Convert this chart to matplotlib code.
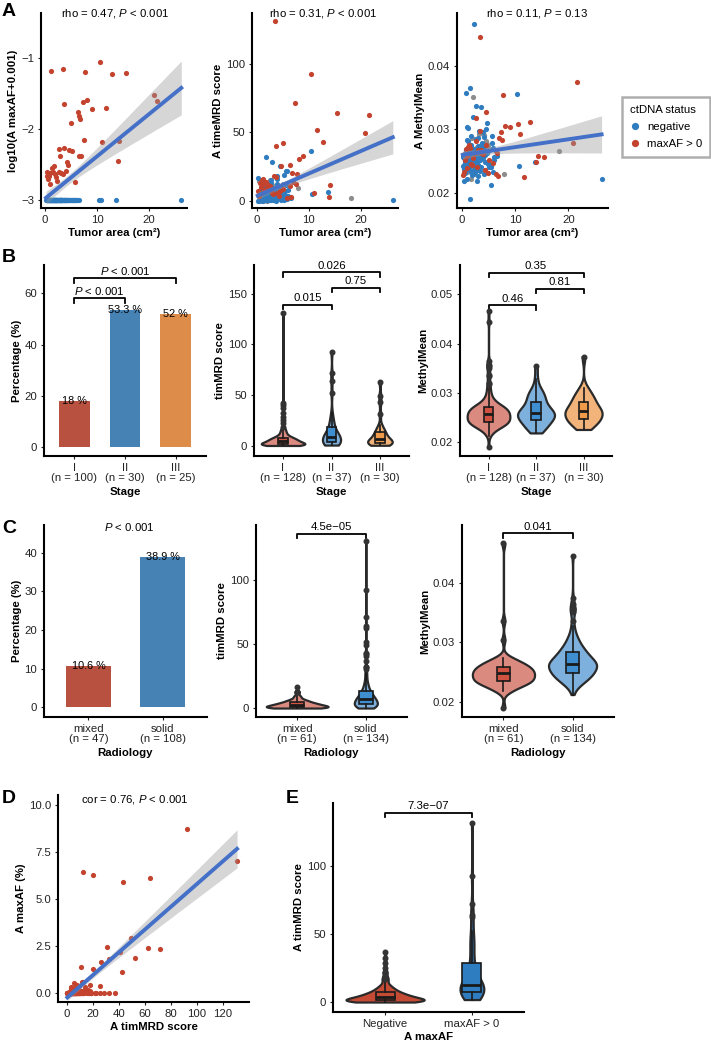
import numpy as np
import matplotlib
matplotlib.use('Agg')
import matplotlib.pyplot as plt
from matplotlib.lines import Line2D

plt.rcParams['font.family'] = ['Liberation Sans', 'DejaVu Sans']
plt.rcParams['mathtext.fontset'] = 'custom'
plt.rcParams['mathtext.rm'] = 'Liberation Sans'
plt.rcParams['mathtext.it'] = 'Liberation Sans:italic'
plt.rcParams['font.size'] = 8.2

# ---- samples with maxAF > 0 (47) ----
pos_area = [3.5, 10.5, 7.7, 12.8, 15.5, 1.15, 20.9, 21.6, 3.7, 7.3,
            8.1, 11.7, 9.0, 6.4, 6.5, 6.8, 5.0, 7.5, 11.0, 14.2,
            14.0, 2.7, 2.9, 3.7, 4.6, 5.1, 4.3, 4.5, 6.6, 7.0,
            5.8, 0.4, 0.9, 1.5, 2.0, 2.6, 3.1, 0.6, 1.0, 2.4,
            0.3, 1.3, 2.2, 3.4, 1.7, 4.0, 0.8]
pos_mrd = [131, 92.5, 19.6, 42.9, 64.0, 12.5, 49.5, 62.7, 40.5, 71.6,
           31.0, 52.0, 32.6, 26.2, 10.8, 20.3, 42.2, 12.3, 5.7, 11.8,
           3.0, 8.0, 6.0, 17.7, 25.7, 9.0, 4.0, 7.0, 3.0, 14.0,
           2.0, 4.0, 6.0, 8.0, 10.0, 11.0, 5.0, 13.0, 15.0, 9.0,
           7.0, 16.0, 12.0, 18.0, 14.0, 6.0, 10.0]
pos_maxaf = [7.0, 8.7, 6.3, 5.9, 6.1, 6.45, 2.95, 2.41, 2.17, 2.33,
             2.47, 1.87, 1.80, 1.66, 1.40, 1.29, 1.12, 0.59, 0.55, 0.58,
             0.25, 0.42, 0.32, 0.44, 0.40, 0.39, 0.24, 0.21, 0.32, 0.32,
             0.08, 0.15, 0.14, 0.15, 0.13, 0.15, 0.14, 0.095, 0.07, 0.086,
             0.12, 0.18, 0.11, 0.13, 0.20, 0.16, 0.12]
pos_methyl = [0.0445, 0.0308, 0.0354, 0.0311, 0.0256, 0.0272, 0.0279, 0.0374, 0.0262, 0.0296,
              0.0305, 0.0225, 0.0304, 0.0229, 0.0265, 0.0226, 0.0231, 0.0283, 0.0292, 0.0258,
              0.0249, 0.0318, 0.0241, 0.0268, 0.0328, 0.0252, 0.0236, 0.0275, 0.0262, 0.0287,
              0.0247, 0.0233, 0.0258, 0.0271, 0.0244, 0.0282, 0.0267, 0.0251, 0.0239, 0.0263,
              0.0228, 0.0276, 0.0254, 0.0298, 0.0245, 0.0261, 0.0269]
pos_stage = "1223213312 3222331322 3111221123 3111123112 1123231"
pos_radio = "ssssssssss ssssssssss ssmsssmsss smsssssmss mssssss"

# ---- ctDNA negative samples (108) ----
neg_area = [0.3, 0.5, 0.6, 0.8, 0.9, 1.0, 1.1, 1.2, 1.3, 1.4, 1.5, 1.6, 1.7, 1.8, 1.9, 2.0,
            2.1, 2.25, 2.3, 2.5, 2.6, 2.8, 3.0, 3.2, 0.4, 0.7, 1.05, 1.45, 1.75, 2.15, 0.2, 2.9,
            0.75, 1.6, 3.7, 10.4, 10.7, 13.7, 26.2, 6.6, 1.8, 0.5, 0.9, 1.2, 1.4, 1.7, 2.0, 2.2,
            2.4, 2.6, 2.8, 3.0, 3.3, 3.5, 3.9, 4.2, 4.5, 4.8, 5.2, 5.6, 6.0, 0.6, 1.0, 1.3,
            1.5, 1.9, 2.1, 2.3, 2.7, 3.1, 3.4, 3.8, 4.1, 4.4, 4.9, 5.4, 5.9, 0.8, 1.1, 2.5, 2.9, 3.6,
            1.2, 2.1, 2.8, 3.3, 1.7, 2.5,
            3.1, 4.0, 4.6, 5.3, 2.6, 3.8, 5.8, 4.3,
            2.0, 3.0, 3.6, 2.4,
            4.1, 5.0, 5.7, 3.2, 4.7, 6.1, 3.9, 5.4]
neg_mrd = [0.2, 1.0, 0.5, 2.1, 3.0, 0.8, 4.2, 1.5, 0.3, 5.1, 2.6, 0.9, 3.6, 6.2, 1.2, 0.6,
           2.3, 4.8, 7.5, 1.8, 0.4, 3.3, 5.6, 9.8, 0.7, 2.9, 1.1, 12.4, 4.0, 0.5, 16.8, 2.0,
           1.2, 3.5, 6.8, 36.8, 4.9, 6.6, 0.5, 2.2, 32.4, 0.3, 5.5, 8.2, 2.8, 10.5, 0.9, 4.4,
           7.1, 1.6, 13.2, 3.9, 0.6, 6.0, 18.3, 2.5, 9.1, 5.0, 1.1, 22.0, 7.8, 0.4, 3.2, 11.6,
           1.9, 6.4, 0.8, 4.6, 15.1, 2.7, 8.8, 0.2, 5.9, 25.3, 3.1, 7.3, 1.4, 9.6, 0.7, 4.1, 28.5, 2.4,
           1.5, 3.2, 0.6, 6.5, 9.4, 2.1,
           4.8, 12.5, 0.9, 18.7, 7.6, 2.4, 21.8, 10.2,
           0.4, 2.7, 5.2, 1.3,
           6.3, 1.8, 11.4, 0.7, 8.9, 3.5, 16.2, 4.4]
neg_methyl = [0.0242, 0.0255, 0.0231, 0.0268, 0.0249, 0.0221, 0.0262, 0.0238, 0.0251, 0.0274,
              0.0245, 0.0190, 0.0258, 0.0233, 0.0265, 0.0247, 0.0229, 0.0466, 0.0253, 0.0241,
              0.0336, 0.0259, 0.0226, 0.0272, 0.0218, 0.0250, 0.0304, 0.0244, 0.0261, 0.0235,
              0.0257, 0.0248,
              0.0357, 0.0365, 0.0335, 0.0355, 0.0242, 0.0249, 0.0221, 0.0258, 0.0276, 0.0238,
              0.0263, 0.0281, 0.0247, 0.0290, 0.0254, 0.0269, 0.0232, 0.0285, 0.0260, 0.0244,
              0.0297, 0.0251, 0.0272, 0.0229, 0.0266, 0.0310, 0.0240, 0.0278, 0.0256, 0.0246,
              0.0283, 0.0237, 0.0268, 0.0252, 0.0320, 0.0261, 0.0243, 0.0274, 0.0234, 0.0259,
              0.0288, 0.0248, 0.0265, 0.0212, 0.0270, 0.0253, 0.0302, 0.0239, 0.0257, 0.0264,
              0.0238, 0.0262, 0.0219, 0.0271, 0.0249, 0.0233,
              0.0286, 0.0255, 0.0301, 0.0244, 0.0268, 0.0279, 0.0232, 0.0259,
              0.0228, 0.0257, 0.0241, 0.0266,
              0.0272, 0.0246, 0.0289, 0.0236, 0.0262, 0.0251, 0.0295, 0.0240]
neg_stage = ("1111111111 1111111111 1111111111 11 "
             "1111111111 1111111111 1111111111 1111111111 1111111111 "
             "222222 22222222 3333 33333333")
neg_radio = ("mmmmmmmmmm mmmmmmmmmm mmmmmmmmmm mm "
             "ssssssssss ssssssssss ssssssssss ssssssssss ssssssssss "
             "mmmmmm ssssssss mmmm ssssssss")

# ---- samples without maxAF (40) ----
na_area = [0.4, 0.9, 1.3, 1.8, 2.2, 0.6, 1.5, 2.6, 1.1, 2.0,
           2.1, 18.2, 7.9, 0.7, 1.2, 1.6, 2.4, 2.9, 3.3, 3.8, 4.4, 5.0, 0.5, 1.0, 1.9, 2.7, 3.6, 4.8,
           1.4, 2.3, 3.2, 4.1, 2.6, 5.5, 3.7, 1.9, 2.8, 4.5, 3.4, 5.1]
na_mrd = [1.1, 0.4, 2.8, 4.5, 0.8, 6.1, 1.9, 3.4, 8.7, 0.2,
          5.3, 2.4, 9.5, 0.6, 3.8, 7.2, 1.4, 11.8, 4.7, 0.9, 6.6, 2.2, 14.5, 0.3, 5.9, 3.1, 8.4, 1.7,
          2.6, 0.7, 8.1, 3.3, 15.6, 1.2, 5.7, 1.6, 4.2, 7.4, 2.9, 12.6]
na_methyl = [0.0244, 0.0232, 0.0257, 0.0221, 0.0263, 0.0249, 0.0236, 0.0270, 0.0253, 0.0240,
             0.0351, 0.0266, 0.0230, 0.0255, 0.0281, 0.0239, 0.0268, 0.0247, 0.0292, 0.0258,
             0.0236, 0.0274, 0.0261, 0.0243, 0.0286, 0.0250, 0.0264, 0.0277,
             0.0248, 0.0229, 0.0266, 0.0291, 0.0254, 0.0242, 0.0275, 0.0259, 0.0237, 0.0281, 0.0253, 0.0267]
na_stage = "1111111111 1111111111 11111111 22 22222 33 333"
na_radio = "mmmmmmmmmm ssssssssss ssssssss mm sssss mm sss"

stage_names = ['I', 'II', 'III']
radio_names = ['mixed', 'solid']
status_names = ['Negative', 'maxAF > 0']

stat_a = ['rho = 0.47, $P$ < 0.001', 'rho = 0.31, $P$ < 0.001', 'rho = 0.11, $P$ = 0.13']
stat_d = 'cor = 0.76, $P$ < 0.001'
p_b1 = ['$P$ < 0.001', '$P$ < 0.001']
p_b2 = ['0.015', '0.75', '0.026']
p_b3 = ['0.46', '0.81', '0.35']
p_c1 = '$P$ < 0.001'
p_c2 = '4.5e\u221205'
p_c3 = '0.041'
p_e = '7.3e\u221207'

RED = '#C3432F'
BLUE = '#2F7DC0'
GRAY = '#8C8C8C'
LINE = '#4470C8'
EDGE = '#2a2a2a'
BAR3 = ['#B95140', '#4682B4', '#DE8C4A']
VIO3 = ['#DB8A7F', '#7DB0DD', '#F3B47C']
BOX3 = ['#CF5340', '#3E8ED0', '#EE9A48']

codes = lambda s: np.array(list(s.replace(' ', '')))
pa, pm, pf, pt = map(np.array, (pos_area, pos_mrd, pos_maxaf, pos_methyl))
na_, nm, nt = map(np.array, (neg_area, neg_mrd, neg_methyl))
xa, xm, xt = map(np.array, (na_area, na_mrd, na_methyl))
ps, pr = codes(pos_stage), codes(pos_radio)
ns, nr = codes(neg_stage), codes(neg_radio)
xs_, xr = codes(na_stage), codes(na_radio)

all_area = np.concatenate([pa, na_, xa])
all_mrd = np.concatenate([pm, nm, xm])
all_meth = np.concatenate([pt, nt, xt])
all_stage = np.concatenate([ps, ns, xs_])
all_radio = np.concatenate([pr, nr, xr])

W, H = 711, 1041
fig = plt.figure(figsize=(W / 100, H / 100), dpi=100)


def add_ax(l, t, r, b):
    return fig.add_axes([l / W, 1 - b / H, (r - l) / W, (b - t) / H])


def style(ax, xlabel, ylabel):
    for s in ['top', 'right']:
        ax.spines[s].set_visible(False)
    for s in ['left', 'bottom']:
        ax.spines[s].set_linewidth(1.5)
    ax.tick_params(length=2.5, width=0.8, labelsize=8.2, pad=2.5, colors='#222222')
    ax.set_xlabel(xlabel, fontweight='bold', labelpad=2.5)
    ax.set_ylabel(ylabel, fontweight='bold', labelpad=2)


def fit_band(ax, x, y):
    n = len(x)
    b, a = np.polyfit(x, y, 1)
    xx = np.linspace(x.min(), x.max(), 100)
    res = y - (a + b * x)
    s = np.sqrt((res ** 2).sum() / (n - 2))
    se = s * np.sqrt(1 / n + (xx - x.mean()) ** 2 / ((x - x.mean()) ** 2).sum())
    yh = a + b * xx
    ax.fill_between(xx, yh - 1.97 * se, yh + 1.97 * se, color='#999999', alpha=0.4, lw=0, zorder=3)
    ax.plot(xx, yh, color=LINE, lw=2.8, zorder=4)


def nrd0(v):
    sd = v.std(ddof=1)
    q75, q25 = np.percentile(v, [75, 25])
    lo = min(sd, (q75 - q25) / 1.34)
    if lo == 0:
        lo = sd
    return 0.9 * lo * len(v) ** -0.2


def violins(ax, groups, vfill, bfill, width=0.9, boxw=0.2):
    grids, dens = [], []
    for v in groups:
        g = np.linspace(v.min(), v.max(), 512)
        bw = nrd0(v)
        d = np.exp(-0.5 * ((g[:, None] - v[None, :]) / bw) ** 2).sum(1) / (len(v) * bw * np.sqrt(2 * np.pi))
        grids.append(g)
        dens.append(d)
    m = max(d.max() for d in dens)
    for i, (g, d) in enumerate(zip(grids, dens)):
        hw = d / m * width / 2
        ax.fill_betweenx(g, i - hw, i + hw, facecolor=vfill[i], edgecolor=EDGE, lw=1.6, zorder=2)
    bp = ax.boxplot(groups, positions=range(len(groups)), widths=boxw, patch_artist=True,
                    showcaps=False, manage_ticks=False, zorder=3,
                    medianprops=dict(color='#1a1a1a', lw=2),
                    boxprops=dict(edgecolor='#1a1a1a', lw=1.2),
                    whiskerprops=dict(color='#1a1a1a', lw=1.2),
                    flierprops=dict(marker='o', ms=3.3, mfc='#333333', mec='#333333'))
    for p, c in zip(bp['boxes'], bfill):
        p.set_facecolor(c)


def bracket(ax, x1, x2, y, text, tick_px=4.5):
    y0, y1 = ax.get_ylim()
    t = tick_px * (y1 - y0) / (ax.get_position().height * H)
    ax.plot([x1, x1, x2, x2], [y - t, y, y, y - t], color='black', lw=1.3, clip_on=False)
    ax.annotate(text, (0.5 * (x1 + x2), y), xytext=(0, 1.2), textcoords='offset points',
                ha='center', va='bottom', fontsize=8.2)


def cat_labels(names, counts):
    return ['%s\n(n = %d)' % (c, n) for c, n in zip(names, counts)]


def scatter_by_status(ax, xp, xn, xna, yp, yn, yna):
    if xna is not None:
        ax.scatter(xna, yna, s=14, color=GRAY, lw=0, zorder=2)
    ax.scatter(xn, yn, s=14, color=BLUE, lw=0, zorder=2)
    ax.scatter(xp, yp, s=14, color=RED, lw=0, zorder=2)


# ---------------- row A ----------------
ax = add_ax(41, 13, 187, 208)
ly_p = np.log10(pf / 100 + 0.001)
ly_n = np.log10(np.zeros(len(na_)) + 0.001)
scatter_by_status(ax, pa, na_, None, ly_p, ly_n, None)
fit_band(ax, np.concatenate([pa, na_]), np.concatenate([ly_p, ly_n]))
ax.set_xlim(-0.77, 27.3)
ax.set_ylim(-3.113, -0.366)
ax.set_xticks([0, 10, 20])
ax.set_yticks([-3, -2, -1])
style(ax, 'Tumor area (cm\u00b2)', 'log10(A maxAF+0.001)')
ax.text(0.51, 1.0, stat_a[0], transform=ax.transAxes, ha='center', va='center')

ax = add_ax(252, 13, 398, 208)
scatter_by_status(ax, pa, na_, xa, pm, nm, xm)
fit_band(ax, all_area, all_mrd)
ax.set_xlim(-0.9, 27.2)
ax.set_ylim(-5.1, 137.2)
ax.set_xticks([0, 10, 20])
ax.set_yticks([0, 50, 100])
style(ax, 'Tumor area (cm\u00b2)', 'A timeMRD score')
ax.text(0.49, 1.0, stat_a[1], transform=ax.transAxes, ha='center', va='center')

ax = add_ax(457, 13, 608, 208)
scatter_by_status(ax, pa, na_, xa, pt, nt, xt)
fit_band(ax, all_area, all_meth)
ax.set_xlim(-0.88, 27.4)
ax.set_ylim(0.01759, 0.04834)
ax.set_xticks([0, 10, 20])
ax.set_yticks([0.02, 0.03, 0.04])
style(ax, 'Tumor area (cm\u00b2)', 'A MethylMean')
ax.text(0.53, 1.0, stat_a[2], transform=ax.transAxes, ha='center', va='center')
handles = [Line2D([], [], marker='o', ls='', color=BLUE, ms=4.2, label='negative'),
           Line2D([], [], marker='o', ls='', color=RED, ms=4.2, label='maxAF > 0')]
leg = ax.legend(handles=handles, title='ctDNA status', loc='upper left',
                bbox_to_anchor=(622 / W, 1 - 97 / H), bbox_transform=fig.transFigure,
                fontsize=8.2, title_fontsize=8.2, alignment='left', fancybox=False,
                handlelength=0.8, handletextpad=0.7, borderpad=0.7, labelspacing=0.6,
                borderaxespad=0)
leg.get_frame().set_edgecolor('#9a9a9a')
leg.get_frame().set_linewidth(1.8)

# ---------------- row B ----------------
ax = add_ax(44, 265, 206, 456)
n_b1 = [np.sum(ps == str(i + 1)) + np.sum(ns == str(i + 1)) for i in range(3)]
pct_b1 = [100 * np.sum(ps == str(i + 1)) / n_b1[i] for i in range(3)]
ax.bar(range(3), pct_b1, width=0.6, color=BAR3, zorder=2)
for i, p in enumerate(pct_b1):
    ax.text(i, p, ('%.1f' % p).rstrip('0').rstrip('.') + ' %', ha='center', va='center', fontsize=7.8, zorder=3)
ax.set_xlim(-0.6, 2.6)
ax.set_ylim(-3.6, 71.1)
ax.set_yticks([0, 20, 40, 60])
ax.set_xticks(range(3))
ax.set_xticklabels(cat_labels(stage_names, n_b1), linespacing=1.05)
style(ax, 'Stage', 'Percentage (%)')
bracket(ax, 0, 1, 58.1, p_b1[0])
bracket(ax, 0, 2, 65.9, p_b1[1])

groups_mrd_stage = [all_mrd[all_stage == str(i + 1)] for i in range(3)]
groups_meth_stage = [all_meth[all_stage == str(i + 1)] for i in range(3)]
n_b2 = [len(g) for g in groups_mrd_stage]

ax = add_ax(254, 265, 409, 456)
ax.set_xlim(-0.6, 2.6)
ax.set_ylim(-10.2, 178.5)
violins(ax, groups_mrd_stage, VIO3, BOX3)
ax.set_yticks([0, 50, 100, 150])
ax.set_xticks(range(3))
ax.set_xticklabels(cat_labels(stage_names, n_b2), linespacing=1.05)
style(ax, 'Stage', 'timMRD score')
bracket(ax, 0, 1, 139.3, p_b2[0])
bracket(ax, 1, 2, 155.8, p_b2[1])
bracket(ax, 0, 2, 171.3, p_b2[2])

ax = add_ax(460, 265, 612, 456)
ax.set_xlim(-0.6, 2.6)
ax.set_ylim(0.01722, 0.05596)
violins(ax, groups_meth_stage, VIO3, BOX3)
ax.set_yticks([0.02, 0.03, 0.04, 0.05])
ax.set_xticks(range(3))
ax.set_xticklabels(cat_labels(stage_names, n_b2), linespacing=1.05)
style(ax, 'Stage', 'MethylMean')
bracket(ax, 0, 1, 0.04776, p_b3[0])
bracket(ax, 1, 2, 0.0511, p_b3[1])
bracket(ax, 0, 2, 0.05436, p_b3[2])

# ---------------- row C ----------------
ax = add_ax(44, 525, 207, 717)
rc = ['m', 's']
n_c1 = [np.sum(pr == r) + np.sum(nr == r) for r in rc]
pct_c1 = [100 * np.sum(pr == r) / n for r, n in zip(rc, n_c1)]
ax.bar(range(2), pct_c1, width=0.6, color=BAR3[:2], zorder=2)
for i, p in enumerate(pct_c1):
    ax.text(i, p, ('%.1f' % p).rstrip('0').rstrip('.') + ' %', ha='center', va='center', fontsize=7.8, zorder=3)
ax.set_xlim(-0.6, 1.6)
ax.set_ylim(-2.5, 47.2)
ax.set_yticks([0, 10, 20, 30, 40])
ax.set_xticks(range(2))
ax.set_xticklabels(cat_labels(radio_names, n_c1), linespacing=1.05)
style(ax, 'Radiology', 'Percentage (%)')
ax.text(0.55, 46.8, p_c1, ha='center', va='center', fontsize=8.2)

groups_mrd_radio = [all_mrd[all_radio == r] for r in rc]
groups_meth_radio = [all_meth[all_radio == r] for r in rc]
n_c2 = [len(g) for g in groups_mrd_radio]

ax = add_ax(256, 525, 407, 717)
ax.set_xlim(-0.6, 1.6)
ax.set_ylim(-6.8, 143.3)
violins(ax, groups_mrd_radio, VIO3[:2], BOX3[:2])
ax.set_yticks([0, 50, 100])
ax.set_xticks(range(2))
ax.set_xticklabels(cat_labels(radio_names, n_c2), linespacing=1.05)
style(ax, 'Radiology', 'timMRD score')
bracket(ax, 0, 1, 136.4, p_c2)

ax = add_ax(462, 525, 614, 717)
ax.set_xlim(-0.6, 1.6)
ax.set_ylim(0.01743, 0.0497)
violins(ax, groups_meth_radio, VIO3[:2], BOX3[:2])
ax.set_yticks([0.02, 0.03, 0.04])
ax.set_xticks(range(2))
ax.set_xticklabels(cat_labels(radio_names, n_c2), linespacing=1.05)
style(ax, 'Radiology', 'MethylMean')
bracket(ax, 0, 1, 0.0483, p_c3)

# ---------------- row D / E ----------------
ax = add_ax(58, 795, 249, 1002)
d_x = np.concatenate([pm, nm])
d_y = np.concatenate([pf, np.zeros(len(nm))])
ax.scatter(d_x, d_y, s=14, color=RED, lw=0, zorder=2)
fit_band(ax, d_x, d_y)
ax.set_xlim(-7.0, 140.2)
ax.set_ylim(-0.46, 10.52)
ax.set_xticks([0, 20, 40, 60, 80, 100, 120])
ax.set_yticks([0, 2.5, 5.0, 7.5, 10.0])
style(ax, 'A timMRD score', 'A maxAF (%)')
ax.text(52, 10.3, stat_d, ha='center', va='center', fontsize=8.2)

ax = add_ax(333, 803, 524, 1012)
ax.set_xlim(-0.6, 1.6)
ax.set_ylim(-7.1, 145.9)
violins(ax, [nm, pm], ['#C64B35', '#2F7DC1'], ['#C64B35', '#2F7DC1'], boxw=0.22)
ax.set_yticks([0, 50, 100])
ax.set_xticks(range(2))
ax.set_xticklabels(status_names)
style(ax, 'A maxAF', 'A timMRD score')
bracket(ax, 0, 1, 138.8, p_e)

# panel letters
for letter, x, y in [('A', 2, 3), ('B', 2, 249), ('C', 2, 520), ('D', 2, 790), ('E', 286, 790)]:
    fig.text(x / W, 1 - y / H, letter, fontsize=14, fontweight='bold', va='top', ha='left')

fig.savefig('out.png', dpi=100)
